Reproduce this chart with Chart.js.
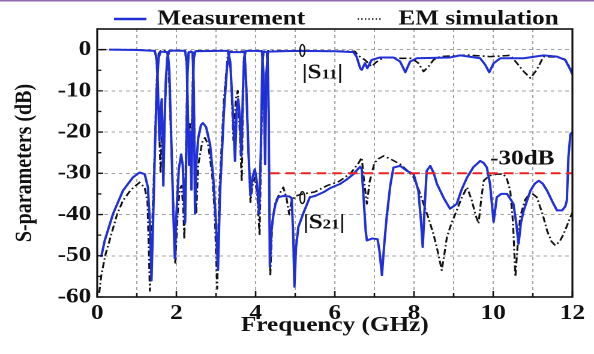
<!DOCTYPE html>
<html>
<head>
<meta charset="utf-8">
<script src="https://cdn.jsdelivr.net/npm/chart.js@4.4.1/dist/chart.umd.min.js"></script>
<style>
  html, body { margin: 0; padding: 0; background: #fff; }
  #chart { display: block; }
</style>
</head>
<body>
<canvas id="chart" width="495" height="354" style="width:594px;height:354px"></canvas>
<script>
// measured |S11|
const measS11Freq = [0.3, 1.0, 1.45, 1.5, 1.53, 1.57, 1.6, 1.63, 1.67, 1.7, 1.73, 1.77, 1.82, 2.0, 2.22, 2.26, 2.29, 2.32, 2.35, 2.38, 2.41, 2.44, 2.48, 3.0, 3.3, 3.36, 3.42, 3.48, 3.52, 3.56, 3.6, 3.64, 3.68, 3.71, 3.75, 4.0, 4.16, 4.2, 4.24, 4.27, 4.31, 5.0, 6.0, 6.47, 6.55, 6.64, 6.68, 6.76, 6.82, 6.93, 7.14, 7.48, 7.65, 7.78, 7.9, 8.07, 8.91, 9.17, 9.67, 9.8, 9.9, 10.01, 10.18, 10.77, 11.27, 11.61, 11.82, 11.95, 12.0];
const measS11Db = [0, -0.1, -0.3, -2, -8, -22, -15, -12, -33, -18, -8, -2, -0.3, -0.2, -0.3, -3, -16, -28, -20, -34, -12, -2, -0.4, -0.3, -0.3, -3, -14, -27, -15, -12, -16, -25.8, -10, -2, -0.3, -0.3, -0.4, -6, -27.8, -6, -0.5, -0.3, -0.4, -0.6, -1.7, -4.5, -4.9, -3.3, -4.5, -2.5, -1.9, -1.9, -2.9, -5.5, -2.9, -2.1, -1.9, -1.4, -2.1, -3.7, -5.5, -3.3, -2.1, -2.1, -1.4, -1.7, -2.5, -4.9, -6];

// measured |S21|
const measS21Freq = [0.1, 0.19, 0.4, 0.65, 0.9, 1.07, 1.2, 1.28, 1.33, 1.37, 1.41, 1.45, 1.5, 1.55, 1.6, 1.78, 1.82, 1.88, 1.93, 1.96, 2.0, 2.06, 2.12, 2.16, 2.2, 2.22, 2.25, 2.28, 2.31, 2.41, 2.44, 2.47, 2.5, 2.55, 2.62, 2.67, 2.75, 2.85, 2.93, 3.0, 3.05, 3.1, 3.2, 3.28, 3.34, 3.72, 3.76, 3.82, 3.87, 3.92, 3.98, 4.03, 4.09, 4.13, 4.17, 4.2, 4.3, 4.33, 4.36, 4.4, 4.45, 4.5, 4.57, 4.7, 4.85, 4.91, 4.95, 4.98, 5.02, 5.08, 5.2, 5.37, 5.5, 5.71, 5.9, 6.13, 6.3, 6.47, 6.58, 6.64, 6.68, 6.72, 6.78, 6.81, 6.95, 7.08, 7.13, 7.19, 7.25, 7.31, 7.4, 7.48, 7.65, 7.82, 7.99, 8.11, 8.18, 8.22, 8.27, 8.32, 8.41, 8.5, 8.58, 8.75, 8.91, 9.08, 9.2, 9.34, 9.5, 9.67, 9.76, 9.84, 9.92, 10.01, 10.09, 10.2, 10.35, 10.51, 10.58, 10.64, 10.7, 10.77, 10.94, 11.05, 11.15, 11.25, 11.36, 11.5, 11.61, 11.74, 11.82, 11.86, 11.9, 11.95, 12.0];
const measS21Db = [-50.3, -46.3, -39.8, -34.2, -31, -29.8, -30.2, -33.4, -42, -56, -42, -27, -10, -2, -0.5, -0.6, -5, -25, -42, -50.6, -40, -29, -25.4, -28, -38, -42, -25, -6, -0.6, -0.6, -10, -39.8, -28, -21.5, -18.3, -17.8, -18.8, -23, -31, -42, -53.5, -35, -15, -4, -0.6, -0.6, -8, -25, -35.4, -31, -29, -32, -39.8, -25, -3, -0.5, -0.6, -15, -52.7, -44, -40, -37.5, -35.8, -35.5, -35.6, -36, -45, -57.5, -48, -43, -39.8, -35.8, -35.5, -34.6, -33.5, -32.6, -31.5, -30.2, -29, -28.4, -29, -35, -44, -46.3, -45.8, -46, -49, -54.7, -47, -40.6, -33, -28.6, -28.2, -29.4, -30.2, -34.2, -42, -47.9, -38, -29.4, -28.2, -30, -32.6, -36, -38.6, -37.4, -34, -31, -28.5, -27, -27.5, -28.6, -32.6, -41.8, -35.8, -35, -35, -37.4, -42, -47.1, -42, -39, -34.2, -32.5, -31.8, -32.5, -34.2, -37, -39, -39, -38, -36.6, -26, -20.5, -20];

// EM simulation |S11|
const simS11Freq = [0.05, 1.0, 1.46, 1.5, 1.55, 1.6, 1.64, 1.68, 1.72, 1.77, 1.82, 2.22, 2.27, 2.31, 2.34, 2.37, 2.42, 2.46, 3.3, 3.37, 3.44, 3.5, 3.55, 3.6, 3.65, 3.7, 3.75, 4.16, 4.2, 4.23, 4.27, 4.31, 6.5, 6.6, 6.76, 6.93, 7.05, 7.23, 7.65, 7.95, 8.11, 8.24, 8.37, 8.49, 8.66, 9.34, 9.92, 10.43, 10.6, 10.77, 10.94, 11.1, 11.27, 11.6, 11.8, 11.95, 12.0];
const simS11Db = [0, 0, -0.3, -3, -15, -30, -18, -26, -12, -2, -0.3, -0.3, -5, -25, -18, -30, -3, -0.3, -0.3, -5, -22, -12, -10, -20, -32, -3, -0.3, -0.3, -8, -22, -8, -0.3, -0.4, -1.5, -2.5, -4.1, -3, -1.9, -2.1, -2.1, -3.3, -5.3, -4.1, -2.5, -1.7, -1.3, -1.7, -1.4, -3.3, -5.3, -6.9, -4.9, -1.7, -1.8, -2.3, -4.5, -5.5];

// EM simulation |S21|
const simS21Freq = [0.05, 0.1, 0.2, 0.32, 0.5, 0.65, 0.85, 1.07, 1.2, 1.27, 1.33, 1.38, 1.45, 1.5, 1.55, 1.6, 1.76, 1.8, 1.86, 1.93, 1.97, 2.03, 2.08, 2.13, 2.17, 2.2, 2.24, 2.28, 2.31, 2.4, 2.43, 2.47, 2.5, 2.55, 2.65, 2.72, 2.8, 2.9, 2.97, 3.03, 3.08, 3.2, 3.3, 3.35, 3.72, 3.77, 3.84, 3.87, 3.92, 3.98, 4.04, 4.1, 4.14, 4.18, 4.21, 4.28, 4.32, 4.37, 4.42, 4.5, 4.6, 4.7, 4.78, 4.85, 4.9, 5.0, 5.2, 5.5, 5.8, 6.1, 6.4, 6.6, 6.68, 6.74, 6.81, 6.88, 7.0, 7.1, 7.23, 7.4, 7.65, 7.85, 7.99, 8.12, 8.24, 8.37, 8.49, 8.6, 8.7, 8.76, 8.83, 8.95, 9.08, 9.2, 9.34, 9.46, 9.55, 9.63, 9.7, 9.76, 9.9, 10.09, 10.26, 10.35, 10.43, 10.5, 10.56, 10.62, 10.68, 10.8, 10.94, 11.1, 11.25, 11.36, 11.47, 11.57, 11.68, 11.78, 11.95, 12.0];
const simS21Db = [-59, -55, -50, -46, -40, -36.6, -34, -32.2, -33.5, -37, -58.5, -45, -25, -8, -1, -0.3, -0.3, -3, -20, -40, -52, -40, -34, -33, -38, -46, -25, -3, -0.4, -0.4, -5, -30, -40, -28, -22.5, -21.4, -23, -30, -40, -58, -35, -12, -1, -0.4, -0.4, -10, -30, -37, -33, -31, -35, -45, -25, -2, -0.4, -0.4, -10, -55, -42, -37, -35, -33.4, -36, -40, -37, -35.5, -35, -34.5, -33, -32, -30, -27.5, -26.2, -32, -37.4, -32, -27.5, -26.5, -25.8, -26.5, -27.8, -29.5, -31, -34, -37.4, -41, -44.7, -49, -53.5, -50, -45.5, -42, -39, -36, -33.4, -36.6, -40, -42.2, -36, -31.8, -30.6, -30.2, -30.2, -31.5, -34.2, -42, -55.1, -47, -40.6, -36.5, -34.6, -35.8, -40, -43.9, -46.5, -47.5, -46.5, -44.7, -40.6, -39.5];

// -30 dB reference line
const refFreq = [4.36, 12];
const refDb = [-30, -30];

const xTicks = [0, 2, 4, 6, 8, 10, 12];
const yTicks = [-60, -50, -40, -30, -20, -10, 0];

const FONT = '"Liberation Serif", "Times New Roman", serif';
const BLUE = '#2030d8';
const INK = '#111111';

function pairs(xs, ys) {
    return xs.map((v, i) => ({ x: v, y: ys[i] }));
}

// frame, inward ticks, legend and annotations
const decorations = {
    id: 'decorations',
    afterDraw(chart) {
        const { ctx, chartArea: a, scales: { x, y } } = chart;
        ctx.save();

        // thin violet strip on the top edge
        ctx.fillStyle = '#8e6aac';
        ctx.fillRect(0, 0, chart.width, 1.5);

        // frame
        ctx.strokeStyle = INK;
        ctx.lineWidth = 1.6;
        ctx.strokeRect(a.left, a.top, a.right - a.left, a.bottom - a.top);

        // inward ticks
        ctx.lineWidth = 1.3;
        ctx.beginPath();
        for (let v = 0; v <= 12; v++) {
            const px = x.getPixelForValue(v);
            const len = xTicks.includes(v) ? 6 : 4;
            ctx.moveTo(px, a.bottom);
            ctx.lineTo(px, a.bottom - len);
        }
        for (let v = -60; v <= 0; v += 5) {
            const py = y.getPixelForValue(v);
            const len = yTicks.includes(v) ? 5 : 3.5;
            ctx.moveTo(a.left, py);
            ctx.lineTo(a.left + len, py);
        }
        ctx.stroke();

        // legend
        ctx.fillStyle = INK;
        ctx.font = 'bold 21px ' + FONT;
        ctx.textBaseline = 'middle';
        ctx.textAlign = 'left';
        ctx.strokeStyle = BLUE;
        ctx.lineWidth = 2.5;
        ctx.beginPath();
        ctx.moveTo(95, 19);
        ctx.lineTo(122, 19);
        ctx.stroke();
        ctx.fillText('Measurement', 131, 19);
        ctx.strokeStyle = INK;
        ctx.lineWidth = 1.4;
        ctx.setLineDash([1.2, 1.8]);
        ctx.beginPath();
        ctx.moveTo(298, 19);
        ctx.lineTo(319, 19);
        ctx.stroke();
        ctx.setLineDash([]);
        ctx.fillText('EM simulation', 332, 19);

        // -30dB label
        ctx.fillText('-30dB', x.getPixelForValue(9.92), y.getPixelForValue(-26.5));

        // |S11| and |S21| labels
        const subLabel = (fx, fy, sub) => {
            let cx = x.getPixelForValue(fx);
            const base = y.getPixelForValue(fy) + 7;
            ctx.textBaseline = 'alphabetic';
            ctx.font = 'bold 21px ' + FONT;
            ctx.fillText('|S', cx, base);
            cx += ctx.measureText('|S').width;
            ctx.font = 'bold 14px ' + FONT;
            ctx.fillText(sub, cx, base);
            cx += ctx.measureText(sub).width;
            ctx.font = 'bold 21px ' + FONT;
            ctx.fillText('|', cx, base);
        };
        subLabel(5.17, -5.3, '11');
        subLabel(5.2, -41.7, '21');

        // small loops marking the curves
        ctx.strokeStyle = INK;
        ctx.lineWidth = 1.2;
        [[5.18, -0.2], [5.18, -35.9]].forEach(([fx, fy]) => {
            ctx.beginPath();
            ctx.ellipse(x.getPixelForValue(fx), y.getPixelForValue(fy), 2, 6, 0, 0, Math.PI * 2);
            ctx.stroke();
        });

        ctx.restore();
    }
};

const ctx = document.getElementById('chart').getContext('2d');
new Chart(ctx, {
    type: 'line',
    data: {
        datasets: [
            { label: '-30dB', data: pairs(refFreq, refDb), borderColor: '#ee2020', borderWidth: 2, borderDash: [8, 5] },
            { label: 'Measurement', data: pairs(measS11Freq, measS11Db), borderColor: BLUE, borderWidth: 2 },
            { label: 'Measurement S21', data: pairs(measS21Freq, measS21Db), borderColor: BLUE, borderWidth: 2 },
            { label: 'EM simulation', data: pairs(simS11Freq, simS11Db), borderColor: INK, borderWidth: 1.6, borderDash: [6, 2.5, 1.5, 2.5] },
            { label: 'EM simulation S21', data: pairs(simS21Freq, simS21Db), borderColor: INK, borderWidth: 1.6, borderDash: [6, 2.5, 1.5, 2.5] }
        ]
    },
    options: {
        responsive: false,
        animation: false,
        devicePixelRatio: 2,
        layout: { padding: { top: 29, right: 18, left: 0, bottom: 0 } },
        elements: {
            point: { radius: 0 },
            line: { tension: 0, borderJoinStyle: 'round', fill: false }
        },
        plugins: {
            legend: { display: false },
            tooltip: { enabled: false }
        },
        scales: {
            x: {
                type: 'linear',
                min: 0,
                max: 12,
                afterFit: s => { s.height = 57; },
                ticks: {
                    stepSize: 1,
                    autoSkip: false,
                    maxRotation: 0,
                    padding: 4,
                    color: INK,
                    font: { family: FONT, size: 21, weight: 'bold' },
                    callback: v => xTicks.includes(v) ? String(v) : ''
                },
                grid: { color: '#a0a0a0', lineWidth: 1, drawTicks: false },
                border: { display: false, dash: [3, 3] },
                title: {
                    display: true,
                    text: 'Frequency (GHz)',
                    color: INK,
                    font: { family: FONT, size: 21, weight: 'bold' },
                    padding: { top: 0, bottom: 16 }
                }
            },
            y: {
                min: -60,
                max: 5,
                afterFit: s => { s.width = 81; },
                ticks: {
                    stepSize: 5,
                    padding: 5,
                    color: INK,
                    font: { family: FONT, size: 21, weight: 'bold' },
                    callback: v => yTicks.includes(v) ? String(v) : ''
                },
                grid: {
                    color: c => (c.tick && yTicks.includes(c.tick.value)) ? '#a0a0a0' : 'rgba(0,0,0,0)',
                    lineWidth: 1,
                    drawTicks: false
                },
                border: { display: false, dash: [3, 3] },
                title: {
                    display: true,
                    text: 'S-parameters (dB)',
                    color: INK,
                    font: { family: FONT, size: 20, weight: 'bold' },
                    padding: { top: 9, bottom: 0 }
                }
            }
        }
    },
    plugins: [decorations]
});
</script>
</body>
</html>
